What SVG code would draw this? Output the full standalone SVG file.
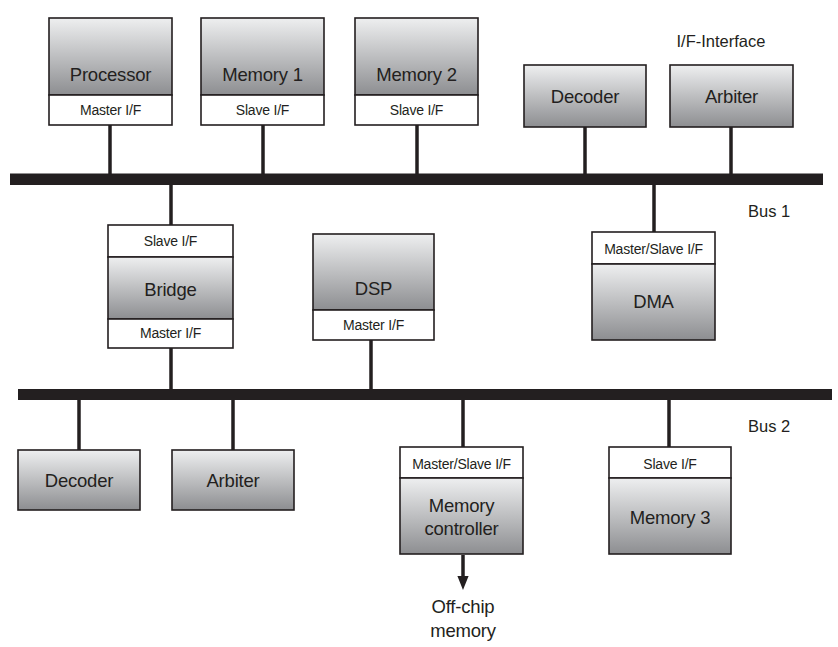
<svg xmlns="http://www.w3.org/2000/svg" width="838" height="647" viewBox="0 0 838 647">
<defs>
<linearGradient id="g" x1="0" y1="0" x2="0" y2="1">
<stop offset="0" stop-color="#eeeff0"/>
<stop offset="1" stop-color="#8d8e91"/>
</linearGradient>
<marker id="ah" markerWidth="4" markerHeight="4" refX="2" refY="2" orient="auto" markerUnits="strokeWidth" viewBox="0 0 4 4">
<path d="M0,0.4 L4,2 L0,3.6 z" fill="#231f20"/>
</marker>
<style>
.b{fill:url(#g);stroke:#231f20;stroke-width:1.6}
.w{fill:#fff;stroke:#231f20;stroke-width:1.6}
.t{font-family:"Liberation Sans",Arial,sans-serif;font-size:18.5px;fill:#231f20;text-anchor:middle;letter-spacing:-0.2px}
.s{font-family:"Liberation Sans",Arial,sans-serif;font-size:14px;fill:#231f20;text-anchor:middle;letter-spacing:-0.2px}
.l{font-family:"Liberation Sans",Arial,sans-serif;font-size:16.5px;fill:#231f20}
.c{stroke:#231f20;stroke-width:3.5;fill:none}
.bus{fill:#231f20}
</style>
</defs>
<g id="connectors">
<line class="c" x1="110" y1="125" x2="110" y2="175"/>
<line class="c" x1="263" y1="125" x2="263" y2="175"/>
<line class="c" x1="417" y1="125" x2="417" y2="175"/>
<line class="c" x1="585" y1="127" x2="585" y2="175"/>
<line class="c" x1="731" y1="127" x2="731" y2="175"/>
<line class="c" x1="171" y1="183" x2="171" y2="225"/>
<line class="c" x1="654" y1="183" x2="654" y2="232"/>
<line class="c" x1="171" y1="348" x2="171" y2="391"/>
<line class="c" x1="371" y1="340" x2="371" y2="391"/>
<line class="c" x1="79" y1="398" x2="79" y2="450"/>
<line class="c" x1="233" y1="398" x2="233" y2="450"/>
<line class="c" x1="463" y1="398" x2="463" y2="447"/>
<line class="c" x1="669" y1="398" x2="669" y2="447"/>
<line class="c" x1="463" y1="555" x2="463" y2="583" marker-end="url(#ah)"/>
</g>
<g id="bus1"><rect class="bus" x="10" y="173.5" width="813" height="11.5"/></g>
<g id="bus2"><rect class="bus" x="18" y="389" width="814" height="11"/></g>
<g id="processor">
<rect class="b" x="49" y="18" width="123" height="77"/>
<rect class="w" x="49" y="95" width="123" height="30"/>
<text class="t" x="110.5" y="81">Processor</text>
<text class="s" x="110.5" y="115">Master I/F</text>
</g>
<g id="memory1">
<rect class="b" x="201" y="18" width="123" height="77"/>
<rect class="w" x="201" y="95" width="123" height="30"/>
<text class="t" x="262.5" y="81">Memory 1</text>
<text class="s" x="262.5" y="115">Slave I/F</text>
</g>
<g id="memory2">
<rect class="b" x="355" y="18" width="123" height="77"/>
<rect class="w" x="355" y="95" width="123" height="30"/>
<text class="t" x="416.5" y="81">Memory 2</text>
<text class="s" x="416.5" y="115">Slave I/F</text>
</g>
<g id="decoder1">
<rect class="b" x="524" y="65" width="122" height="62"/>
<text class="t" x="585" y="103">Decoder</text>
</g>
<g id="arbiter1">
<rect class="b" x="670" y="65" width="123" height="62"/>
<text class="t" x="731.5" y="103">Arbiter</text>
</g>
<g id="bridge">
<rect class="w" x="108" y="225" width="125" height="32"/>
<rect class="b" x="108" y="257" width="125" height="62"/>
<rect class="w" x="108" y="319" width="125" height="29"/>
<text class="s" x="170.5" y="246">Slave I/F</text>
<text class="t" x="170.5" y="296">Bridge</text>
<text class="s" x="170.5" y="338">Master I/F</text>
</g>
<g id="dsp">
<rect class="b" x="313" y="234" width="121" height="76"/>
<rect class="w" x="313" y="310" width="121" height="30"/>
<text class="t" x="373.5" y="295">DSP</text>
<text class="s" x="373.5" y="330">Master I/F</text>
</g>
<g id="dma">
<rect class="w" x="592" y="232" width="123" height="32"/>
<rect class="b" x="592" y="264" width="123" height="76"/>
<text class="s" x="653.5" y="254">Master/Slave I/F</text>
<text class="t" x="653.5" y="308">DMA</text>
</g>
<g id="decoder2">
<rect class="b" x="18" y="450" width="122" height="60"/>
<text class="t" x="79" y="487">Decoder</text>
</g>
<g id="arbiter2">
<rect class="b" x="172" y="450" width="122" height="60"/>
<text class="t" x="233" y="487">Arbiter</text>
</g>
<g id="memcontroller">
<rect class="w" x="400" y="447" width="123" height="31"/>
<rect class="b" x="400" y="478" width="123" height="76"/>
<text class="s" x="461.5" y="469">Master/Slave I/F</text>
<text class="t" x="461.5" y="512">Memory</text>
<text class="t" x="461.5" y="535">controller</text>
</g>
<g id="memory3">
<rect class="w" x="609" y="447" width="122" height="31"/>
<rect class="b" x="609" y="478" width="122" height="76"/>
<text class="s" x="670" y="469">Slave I/F</text>
<text class="t" x="670" y="524">Memory 3</text>
</g>
<g id="labels">
<text class="l" x="721" y="47" text-anchor="middle">I/F-Interface</text>
<text class="l" x="748" y="217">Bus 1</text>
<text class="l" x="748" y="432">Bus 2</text>
<text class="t" x="463" y="613">Off-chip</text>
<text class="t" x="463" y="637">memory</text>
</g>
</svg>
